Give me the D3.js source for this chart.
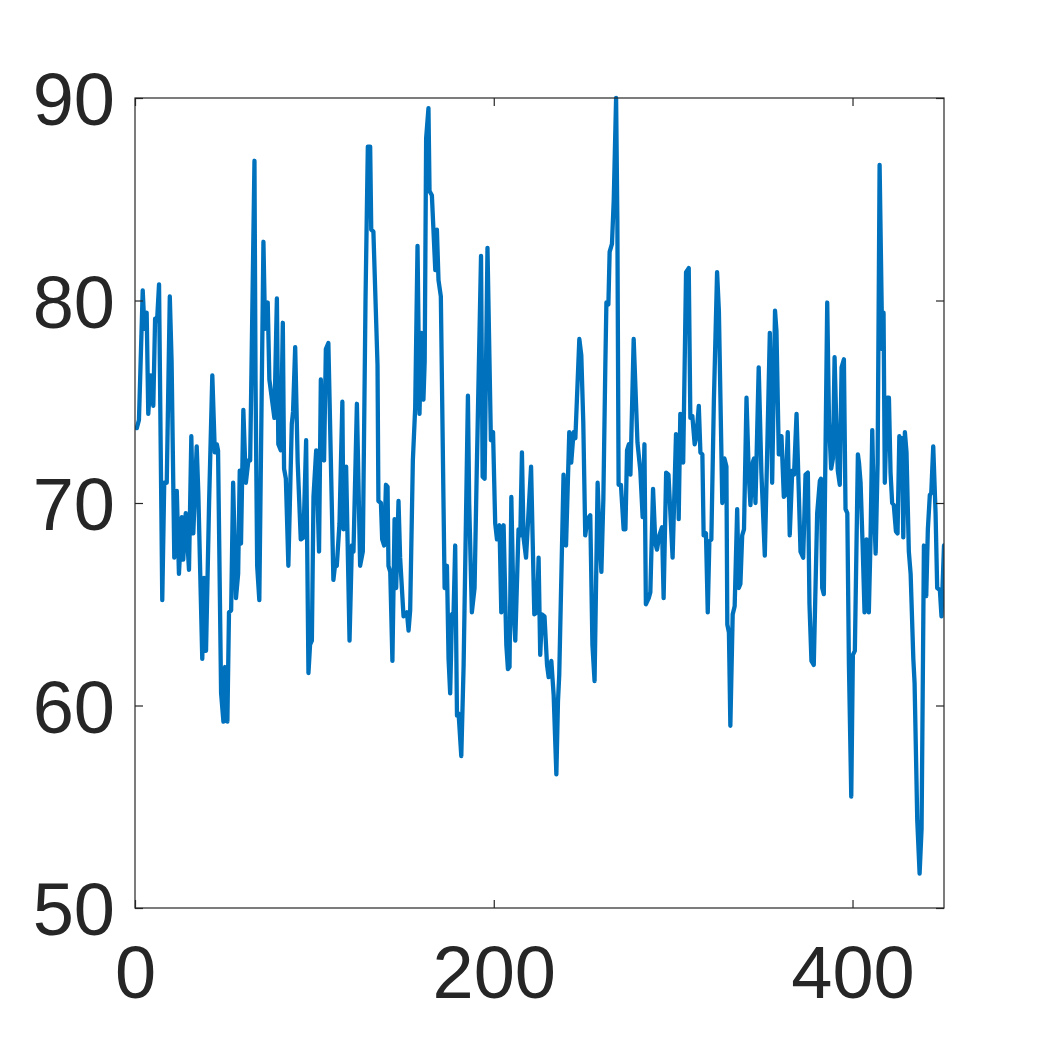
<!DOCTYPE html>
<html>
<head>
<meta charset="utf-8">
<script src="https://cdn.jsdelivr.net/npm/d3@7"></script>
<style>
html,body{margin:0;padding:0;background:#fff;}
svg{display:block;}
</style>
</head>
<body>
<svg id="chart" width="1043" height="1042"></svg>
<script>
// Vertices of the series
const xValues = [1,2.2,4.3,5.3,6.5,7.4,8.8,10.2,11.2,12.3,13.4,15.2,16.3,17.7,19.4,20.4,21.9,23.3,24.5,26.1,26.9,28.3,30.1,31.4,32.5,34.4,35.3,37.5,38.5,39.6,41.3,43.1,44.5,45.6,46.3,48,49.3,50.2,51.5,52.4,53.6,54.7,56.3,57.5,58.4,59.1,60.4,61.8,63.2,64.2,66.6,67.2,68.1,69.3,71.6,72.5,74,74.9,77.7,79.1,79.9,81.3,82.4,83.1,84.1,85.5,87.4,88.1,89.3,90.7,92.4,93.9,95.4,96.7,97.6,98.6,99.5,101,102.6,103.6,104.6,105.4,106.4,107.8,110.6,111.6,112.5,114,115.6,116.2,117.7,119.6,120.9,121.8,123.7,125.5,127,128.5,129.8,131.1,131.7,132.9,135.2,135.7,137.1,137.8,138.9,139.9,140.8,141.3,142.3,143.5,144.7,145.6,146.9,147.8,149.7,151.6,152.5,153.4,154.9,156.2,157.5,158.6,159.6,160.8,161.5,162.3,163.6,164.2,165.5,167.4,168.3,169.2,170.5,172.6,173.9,174.8,175.7,176.7,177.6,178.5,179.5,180.4,181.9,183.2,185.6,186.3,187.8,189.3,190.5,192.9,193.8,194.9,196.5,198.4,199.6,200.8,201.8,203.2,204.2,205.5,207,207.9,208.8,209.8,211.1,212,213.8,214.8,215.7,216.6,218,219.3,220.8,222.6,224.1,225,225.9,226.9,228.3,229.7,230.6,232.1,233.4,234.9,235.8,236.5,238.9,240.3,242.1,243.2,244.5,245.5,247.7,248.8,249.9,251,252.2,253.8,255,256.2,257.9,258.9,260,261.1,262.2,262.8,263.9,264.6,265.9,266.9,268.2,268.9,269.6,270.9,272.4,273.4,274.3,275.3,276.2,278,280.1,281.7,283,284,284.8,286.4,287.3,288.8,290.1,291,292.3,293.8,294.7,296.1,297.4,299.7,301.6,302.4,303.1,304,305.6,307.2,308.7,309.6,310.7,312,313,314.3,315.2,316.3,317,318.3,319.3,320.2,321.3,322.7,324.5,325.5,327.4,328.6,329.7,330.2,331.1,331.9,333.2,334.3,335.7,336.6,337.5,338.5,339.5,340.9,342.2,343.1,344.4,345.1,345.9,347.7,349.2,351.1,352.3,353.9,355.2,356.8,357.6,358.9,360.4,361.7,362.6,363.9,365,366.4,367.4,368.8,369.9,371,372.5,373.8,375.1,376,377.1,378.4,380.3,381.8,382.4,383.1,384,385.9,386.9,388.1,389.1,390,390.8,391.8,392.9,393.9,395.2,396.1,397.1,398,399.3,400.2,401.3,403,403.6,404.5,405.6,406.7,407.8,409.1,410,411,411.7,412.9,414,415.1,416.6,417.3,418,419.4,420.3,421.2,422.1,423,424.2,425.1,426.1,427.1,427.6,428.3,429.2,430.1,431.4,432.4,433.9,434.6,436.1,437.4,438.5,439.8,441.1,442,443.1,443.9,445,446.3,447.2,448.7,449.6,451];
const yValues = [73.7,74.1,80.5,78.6,79.4,74.4,76.3,74.8,79.1,79.0,80.8,65.2,71.0,71.0,80.2,77.0,67.3,70.6,66.5,69.3,67.2,69.5,66.7,73.3,68.5,72.8,70.5,62.3,66.3,62.7,70.0,76.3,72.5,72.9,72.6,60.6,59.2,61.9,59.2,64.6,64.7,71.0,65.3,66.5,71.6,68.0,74.6,71.0,72.1,72.1,86.9,76.0,66.9,65.2,82.9,78.6,79.9,76.1,74.2,80.1,72.9,72.6,78.9,71.7,71.2,66.9,73.9,74.5,77.7,72.0,68.2,68.3,73.1,61.6,63.0,63.2,70.3,72.6,67.6,76.1,72.5,72.1,77.6,77.9,66.2,67.0,66.9,69.0,75.0,68.7,71.8,63.2,67.9,67.6,74.9,66.9,67.6,80.0,87.6,87.6,83.5,83.4,76.8,70.1,70.0,68.2,67.9,70.9,70.8,66.9,66.6,62.2,69.2,65.8,70.1,67.3,64.4,64.6,63.7,64.7,72.1,74.7,82.7,74.4,78.4,75.1,77.0,88.0,89.5,85.4,85.2,81.5,83.5,81.0,80.2,65.8,66.9,62.3,60.6,64.5,64.6,67.9,59.5,59.6,57.5,62.0,75.3,70.0,64.6,65.8,71.5,82.2,71.3,71.2,82.6,73.1,73.5,69.0,68.2,68.9,64.6,68.9,63.0,61.8,61.9,70.3,64.5,63.2,68.7,68.4,72.5,68.3,67.3,69.4,71.8,64.5,64.6,67.3,62.5,64.5,64.4,62.0,61.4,62.2,60.5,56.6,60.2,61.5,71.4,67.9,73.5,72.0,73.5,73.2,78.1,77.3,74.0,68.4,69.2,69.4,63.0,61.2,71.0,68.5,66.6,70.2,76.8,79.9,79.8,82.4,82.8,85.0,90.0,84.0,70.9,70.9,68.7,68.7,72.6,72.9,71.4,78.1,73.0,71.6,69.3,72.9,65.0,65.3,65.6,70.7,68.0,67.7,68.4,68.8,65.3,71.5,71.4,67.3,73.4,73.3,69.2,74.4,72.0,81.4,81.6,74.2,74.3,72.9,73.3,74.8,72.5,72.4,68.4,68.5,64.6,68.1,68.2,75.0,81.4,79.5,70.0,72.2,71.8,64.0,63.6,59.0,64.5,64.9,69.7,65.8,66.0,68.4,68.7,75.2,71.3,69.9,72.0,72.2,70.0,76.7,71.5,67.4,72.0,78.4,71.0,79.5,78.5,72.4,73.3,70.3,70.4,73.5,68.4,71.6,71.4,74.4,71.0,67.6,67.3,71.4,71.5,65.0,62.2,62.0,69.5,71.1,71.2,65.8,65.5,79.9,74.0,71.7,72.2,77.2,74.5,71.6,70.9,76.7,77.1,69.7,69.5,62.0,55.5,62.5,62.7,72.4,72.0,71.0,68.0,64.6,68.2,64.6,68.0,73.6,70.5,67.5,72.0,86.7,77.6,79.4,71.0,75.2,75.2,71.5,70.0,69.9,68.6,68.5,73.3,72.0,73.2,68.3,73.5,72.5,67.6,66.5,62.3,61.1,54.3,51.7,53.9,67.9,65.4,68.7,70.4,70.5,72.8,69.5,65.8,65.7,64.4,67.9];
const xTicks = [0, 200, 400];
const yTicks = [50, 60, 70, 80, 90];
const xDomain = [0, 451];
const yDomain = [50, 90];

const svg = d3.select("#chart");
const mLeft = 135, mRight = 944, mTop = 98, mBottom = 908;
const axisColor = "#262626";
const x = d3.scaleLinear().domain(xDomain).range([mLeft, mRight]);
const y = d3.scaleLinear().domain(yDomain).range([mBottom, mTop]);

const data = d3.zip(xValues, yValues);

svg.append("defs").append("clipPath").attr("id", "clip")
  .append("rect").attr("x", mLeft).attr("y", mTop - 3).attr("width", mRight - mLeft).attr("height", mBottom - mTop + 6);

svg.append("path")
  .datum(data)
  .attr("clip-path", "url(#clip)")
  .attr("fill", "none")
  .attr("stroke", "#0072BD")
  .attr("stroke-width", 4.3)
  .attr("stroke-linejoin", "round")
  .attr("stroke-linecap", "round")
  .attr("d", d3.line().x(d => x(d[0])).y(d => y(d[1])));

const fontFamily = "'Liberation Sans', Arial, Helvetica, sans-serif";
const fs = 74;
const tickLen = 8;

const gB = svg.append("g").attr("transform", `translate(0,${mBottom})`)
  .call(d3.axisBottom(x).tickValues(xTicks).tickSize(-tickLen).tickPadding(tickLen + 29).tickFormat(d3.format("d")));
const gT = svg.append("g").attr("transform", `translate(0,${mTop})`)
  .call(d3.axisTop(x).tickValues(xTicks).tickSize(-tickLen).tickFormat(""));
const gL = svg.append("g").attr("transform", `translate(${mLeft},0)`)
  .call(d3.axisLeft(y).tickValues(yTicks).tickSize(-tickLen).tickPadding(tickLen + 12).tickFormat(d3.format("d")));
const gR = svg.append("g").attr("transform", `translate(${mRight},0)`)
  .call(d3.axisRight(y).tickValues(yTicks).tickSize(-tickLen).tickFormat(""));

[gB, gT, gL, gR].forEach(g => {
  g.select(".domain").remove();
  g.selectAll("line").attr("stroke", axisColor).attr("stroke-width", 1.2);
  g.selectAll("text").attr("fill", axisColor).attr("font-family", fontFamily).attr("font-size", fs);
});
gL.selectAll("text").attr("dy", "0.36em");

svg.append("rect")
  .attr("x", mLeft).attr("y", mTop).attr("width", mRight - mLeft).attr("height", mBottom - mTop)
  .attr("fill", "none").attr("stroke", axisColor).attr("stroke-width", 1.2);
</script>
</body>
</html>
